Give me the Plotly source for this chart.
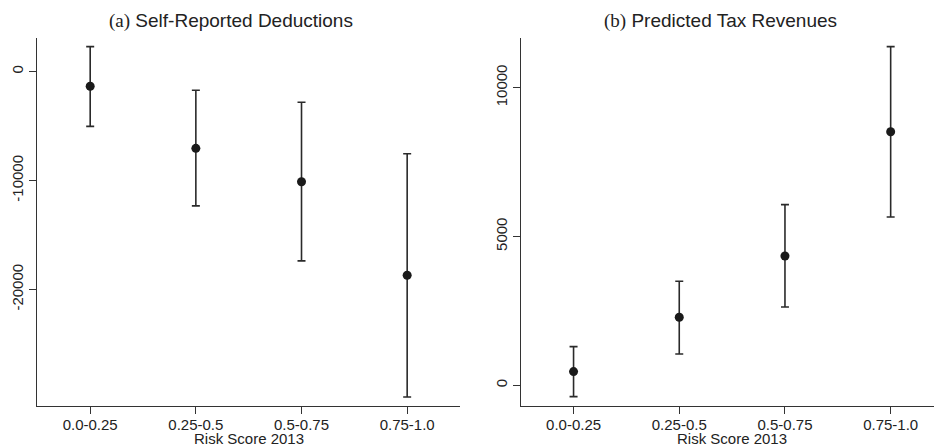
import plotly.graph_objects as go

# Risk-score bins shared by both panels
categories = ["0.0-0.25", "0.25-0.5", "0.5-0.75", "0.75-1.0"]

# (a) Self-reported deductions: point estimate with 95% CI bounds
deduct_est = [-1340, -7040, -10110, -18690]
deduct_lo = [-5020, -12320, -17370, -29870]
deduct_hi = [2300, -1710, -2810, -7540]

# (b) Predicted tax revenues: point estimate with 95% CI bounds
revenue_est = [460, 2285, 4345, 8520]
revenue_lo = [-380, 1050, 2630, 5655]
revenue_hi = [1300, 3495, 6070, 11380]

deduct_ticks = [0, -10000, -20000]
revenue_ticks = [0, 5000, 10000]

x_title = "Risk Score 2013"

INK = "#1a1a1a"
TEXT = "#222222"
SANS = "Liberation Sans, Arial, sans-serif"
SERIF = "Liberation Serif, Times New Roman, serif"

W, H = 934, 446


def ci_trace(est, lo, hi, xaxis, yaxis):
    xs = list(range(len(categories)))
    return go.Scatter(
        x=xs,
        y=est,
        mode="markers",
        xaxis=xaxis,
        yaxis=yaxis,
        marker=dict(size=9, color=INK, symbol="circle"),
        error_y=dict(
            type="data",
            symmetric=False,
            array=[h - e for h, e in zip(hi, est)],
            arrayminus=[e - l for e, l in zip(est, lo)],
            color="#2a2a2a",
            thickness=1.6,
            width=4,
        ),
        showlegend=False,
        hoverinfo="skip",
    )


fig = go.Figure()
fig.add_trace(ci_trace(deduct_est, deduct_lo, deduct_hi, "x", "y"))
fig.add_trace(ci_trace(revenue_est, revenue_lo, revenue_hi, "x2", "y2"))

xcommon = dict(
    tickmode="array",
    tickvals=list(range(len(categories))),
    ticktext=categories,
    showgrid=False,
    zeroline=False,
    showline=True,
    linecolor="#333333",
    linewidth=1.3,
    ticks="outside",
    ticklen=7,
    tickwidth=1.2,
    tickcolor="#333333",
    tickfont=dict(family=SANS, size=15, color=TEXT),
    ticklabelstandoff=-2,
)
ycommon = dict(
    showgrid=False,
    zeroline=False,
    showline=True,
    linecolor="#333333",
    linewidth=1.3,
    ticks="outside",
    ticklen=7,
    tickwidth=1.2,
    tickcolor="#333333",
    tickangle=-90,
    tickfont=dict(family=SANS, size=15, color=TEXT),
    tickmode="array",
)

left_dom = [0.040, 0.4925]
right_dom = [0.5575, 1.0]

fig.update_layout(
    width=W,
    height=H,
    margin=dict(l=0, r=0, t=0, b=0),
    paper_bgcolor="white",
    plot_bgcolor="white",
    xaxis=dict(xcommon, domain=left_dom, range=[-0.5, 3.5], anchor="y"),
    yaxis=dict(ycommon, domain=[0.0897, 0.9155], range=[-30700, 3120],
               tickvals=deduct_ticks, ticktext=[str(v) for v in deduct_ticks], anchor="x"),
    xaxis2=dict(xcommon, domain=right_dom, range=[-0.5, 3.41], anchor="y2"),
    yaxis2=dict(ycommon, domain=[0.0897, 0.9155], range=[-696, 11680],
                tickvals=revenue_ticks, ticktext=[str(v) for v in revenue_ticks], anchor="x2"),
)

# Panel titles (serif panel letter, sans title) and x-axis titles, placed in pixels
labels = [
    (f"<span style='font-family:{SERIF}'>(a)</span> Self-Reported Deductions", 231, 21.5, 19),
    (f"<span style='font-family:{SERIF}'>(b)</span> Predicted Tax Revenues", 720, 21.5, 19),
    (x_title, 248.5, 438, 15),
    (x_title, 732, 438, 15),
]
for text, px, py, size in labels:
    fig.add_annotation(
        text=text,
        x=px / W, y=1 - py / H, xref="paper", yref="paper",
        xanchor="center", yanchor="middle", showarrow=False,
        font=dict(family=SANS, size=size, color=TEXT),
    )

fig.write_html("out.html")
